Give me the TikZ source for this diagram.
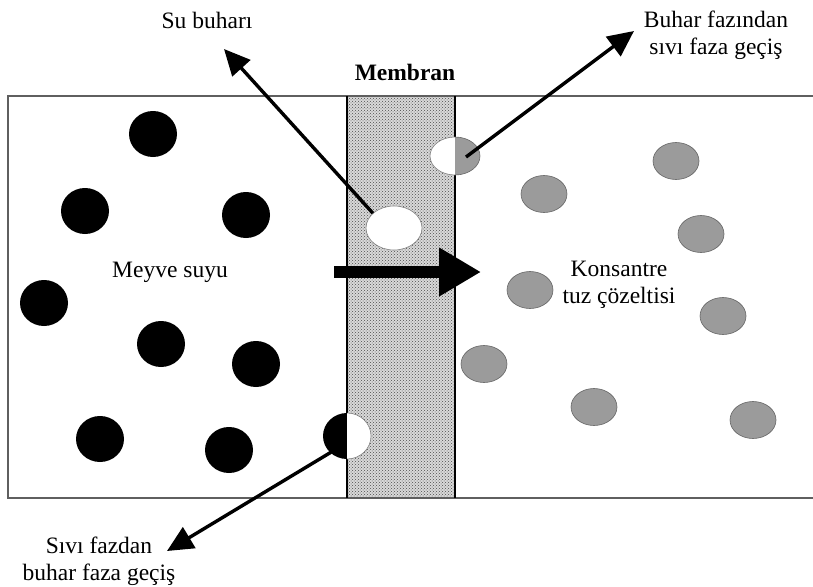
\documentclass[tikz,border=0pt]{standalone}
\usepackage{fontspec}
\setmainfont{Liberation Serif}
\usetikzlibrary{patterns,arrows.meta,shapes.geometric}
\definecolor{partgray}{RGB}{155,155,155}
\definecolor{edgegray}{RGB}{95,95,95}
\begin{document}
\begin{tikzpicture}[x=1pt,y=-1pt,
  blk/.style={ellipse,fill=black,minimum width=48pt,minimum height=46pt,inner sep=0pt},
  gry/.style={ellipse,fill=partgray,draw=gray!80!black,line width=0.6pt,minimum width=46pt,minimum height=37pt,inner sep=0pt},
  lbl/.style={font=\fontsize{23.5}{27}\selectfont,align=center,inner sep=0pt},
  arr/.style={-{Triangle[length=26pt,width=24pt]},line width=3.4pt,black}]
\useasboundingbox (0,0) rectangle (813,586);
% membrane
\fill[gray!30] (347,96) rectangle (455,498);
\fill[pattern=crosshatch dots,pattern color=black!70] (347,96) rectangle (455,498);
% container
\draw[edgegray,line width=1.6pt] (813,96) -- (8,96) -- (8,498) -- (813,498);
\draw[line width=1.8pt] (347,96) -- (347,498);
\draw[line width=1.8pt] (455,96) -- (455,498);
\node[font=\bfseries\fontsize{23.5}{27}\selectfont,inner sep=0pt] (mem) at (405,72) {Membran};
% black particles
\foreach \n/\x/\y in {b1/153/134,b2/85/211,b3/246/215,b4/44/303,b5/161/344,b6/256/364,b7/100/439,b8/229/450}
  \node[blk] (\n) at (\x,\y) {};
% gray particles
\foreach \n/\x/\y in {g1/676/161,g2/544/194,g3/701/234,g4/530/290,g5/723/316,g6/484/364,g7/594/407,g8/753/420}
  \node[gry] (\n) at (\x,\y) {};
% white vapour bubble in membrane
\node[ellipse,fill=white,draw=gray,line width=0.6pt,minimum width=56pt,minimum height=44pt,inner sep=0pt] (wv) at (394,228) {};
% half particle bottom left (liquid -> vapour)
\begin{scope}
  \clip (300,400) rectangle (347,480);
  \fill (347,436) ellipse (24 and 23);
\end{scope}
\begin{scope}
  \clip (347,400) rectangle (400,480);
  \filldraw[fill=white,draw=gray,line width=0.6pt] (347,436) ellipse (24 and 23);
\end{scope}
\coordinate (hb) at (333,451);
% half particle top right (vapour -> liquid)
\begin{scope}
  \clip (400,120) rectangle (455,200);
  \filldraw[fill=white,draw=gray,line width=0.6pt] (455,156) ellipse (25 and 19);
\end{scope}
\begin{scope}
  \clip (455,120) rectangle (510,200);
  \filldraw[fill=partgray,draw=gray!80!black,line width=0.6pt] (455,156) ellipse (25 and 19);
\end{scope}
\coordinate (ht) at (466,157);
% labels
\node[lbl] (su) at (207,20) {Su buharı};
\node[lbl] (bf) at (716,35) {Buhar fazından\\sıvı faza geçiş};
\node[lbl] (sf) at (99,561) {Sıvı fazdan\\buhar faza geçiş};
\node[lbl] (ms) at (170,272) {Meyve suyu};
\node[lbl] (kt) at (619,285) {Konsantre\\tuz çözeltisi};
% arrows
\coordinate (suT) at (224,49);
\coordinate (bfT) at (634,31);
\coordinate (sfT) at (167,551);
\draw[arr] (wv.145) -- (suT);
\draw[arr] (ht) -- (bfT);
\draw[arr] (hb) -- (sfT);
% big flux arrow
\coordinate (fa) at (334,272);
\coordinate (fb) at (481,272);
\draw[line width=12pt,-{Triangle[length=42pt,width=46pt]}] (fa) -- (fb);
\end{tikzpicture}
\end{document}
